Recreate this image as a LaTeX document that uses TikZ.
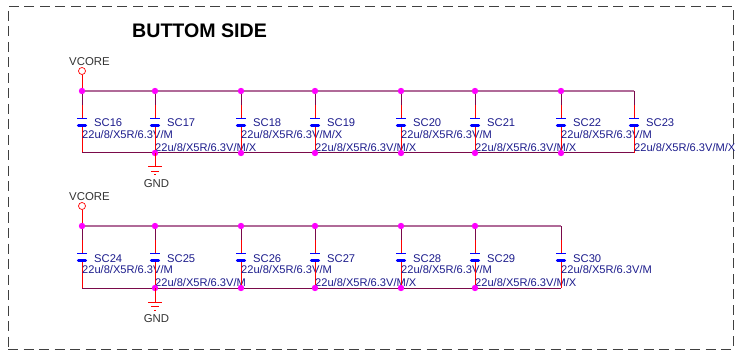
\documentclass[tikz,border=0pt]{standalone}
\usepackage{fontspec}
\setmainfont{Liberation Sans}
\definecolor{railc}{HTML}{B06A98}
\definecolor{wirec}{HTML}{7A0A4A}
\definecolor{valc}{HTML}{1C1C8C}
\definecolor{dotc}{HTML}{FF00FF}
\tikzset{
    dot/.style={circle,fill=dotc,inner sep=0,minimum size=6.4pt},
    tap/.style={inner sep=0,minimum size=0pt},
    capbox/.style={inner sep=0,minimum width=9pt,minimum height=7pt},
    plate/.style={blue,line width=1pt},
    fatplate/.style={blue,line width=2.8pt,line cap=round},
    rail/.style={railc,line width=2.2pt},
    rtn/.style={wirec,line width=1pt},
    lead/.style={red,line width=.9pt},
    leadtop/.style={wirec,line width=.9pt},
    gndbar/.style={red,line width=1pt},
    reflab/.style={valc,font=\fontsize{11.2}{12}\selectfont,inner sep=0,anchor=west},
    vallab/.style={valc,font=\fontsize{11.1}{12}\selectfont,inner sep=0,anchor=west},
    netlab/.style={black!80,font=\fontsize{11.4}{12}\selectfont,inner sep=0},
    port/.style={circle,draw=red,fill=white,line width=.7pt,inner sep=0,minimum size=7pt},
}
\begin{document}
\begin{tikzpicture}[x=1pt,y=-1pt]
\useasboundingbox (0,0) rectangle (742,350);
\node[inner sep=0] (frame) at (370.5,177.5) [draw=black!75,line width=.8pt,dash pattern=on 10pt off 5.5pt,minimum width=725pt,minimum height=343pt] {};
\node[inner sep=0,anchor=west,font=\bfseries\fontsize{19.6}{22}\selectfont] (title) at (132,30.5) {BUTTOM SIDE};
% upper row
\node[port] (pa) at (82,71) {};
\node[netlab] (vcorea) at (89.5,61.5) {VCORE};
\node[tap] (ra) at (634,91) {};
\node[tap] (sa) at (634,153) {};
\node[tap] (la) at (82,153) {};
\foreach \x/\n/\yv/\v in {82/16/135/M,155/17/147.5/M\slash X,241/18/135/M\slash X,315/19/147.5/M\slash X,401/20/135/M,475/21/147.5/M\slash X,561/22/135/M,634/23/147.5/M\slash X}
{
    \node[capbox] (c\n) at (\x,122) {};
    \coordinate (m\n) at (\x,105);
    \coordinate (t\n) at (\x,91);
    \coordinate (b\n) at (\x,153);
    \draw[lead] (t\n)--(c\n.north);
    \draw[leadtop] (t\n)--(m\n);
    \draw[lead] (c\n.south)--(b\n);
    \draw[plate] (c\n.north west)--(c\n.north east);
    \draw[fatplate] ([xshift=1pt]c\n.south west)--([xshift=-1pt]c\n.south east);
    \node[reflab] (sc\n) at (\x+12,122.5) {SC\n};
    \node[vallab] (v\n) at (\x,\yv) {22u/8/X5R/6.3V/\v};
}
\draw[lead] (pa)--(t16);
\draw[rail] (t16)--(ra);
\draw[rtn] (la)--(sa);
\foreach \n in {16,17,18,19,20,21,22}
{
    \node[dot] at (t\n) {};
}
\foreach \n in {17,18,19,20,21,22}
{
    \node[dot] at (b\n) {};
}
\coordinate (ga) at (155,167);
\draw[lead] (b17)--(ga);
\draw[gndbar] (148,167)--(162,167) (151,171.5)--(159,171.5) (154,175)--(156,175);
\node[netlab] (gnda) at (156.5,184) {GND};
% lower row
\node[port] (pb) at (82,206) {};
\node[netlab] (vcoreb) at (89.5,196.5) {VCORE};
\node[tap] (rb) at (561,226) {};
\node[tap] (sb) at (561,288) {};
\node[tap] (lb) at (82,288) {};
\foreach \x/\n/\yv/\v in {82/24/270/M,155/25/282.5/M,241/26/270/M,315/27/282.5/M\slash X,401/28/270/M,475/29/282.5/M\slash X,561/30/270/M}
{
    \node[capbox] (c\n) at (\x,257) {};
    \coordinate (m\n) at (\x,240);
    \coordinate (t\n) at (\x,226);
    \coordinate (b\n) at (\x,288);
    \draw[lead] (t\n)--(c\n.north);
    \draw[leadtop] (t\n)--(m\n);
    \draw[lead] (c\n.south)--(b\n);
    \draw[plate] (c\n.north west)--(c\n.north east);
    \draw[fatplate] ([xshift=1pt]c\n.south west)--([xshift=-1pt]c\n.south east);
    \node[reflab] (sc\n) at (\x+12,258.5) {SC\n};
    \node[vallab] (v\n) at (\x,\yv) {22u/8/X5R/6.3V/\v};
}
\draw[lead] (pb)--(t24);
\draw[rail] (t24)--(rb);
\draw[rtn] (lb)--(sb);
\foreach \n in {24,25,26,27,28,29}
{
    \node[dot] at (t\n) {};
}
\foreach \n in {25,26,27,28,29}
{
    \node[dot] at (b\n) {};
}
\coordinate (gb) at (155,302);
\draw[lead] (b25)--(gb);
\draw[gndbar] (148,302)--(162,302) (151,306.5)--(159,306.5) (154,310)--(156,310);
\node[netlab] (gndb) at (156.5,319) {GND};
\end{tikzpicture}
\end{document}
